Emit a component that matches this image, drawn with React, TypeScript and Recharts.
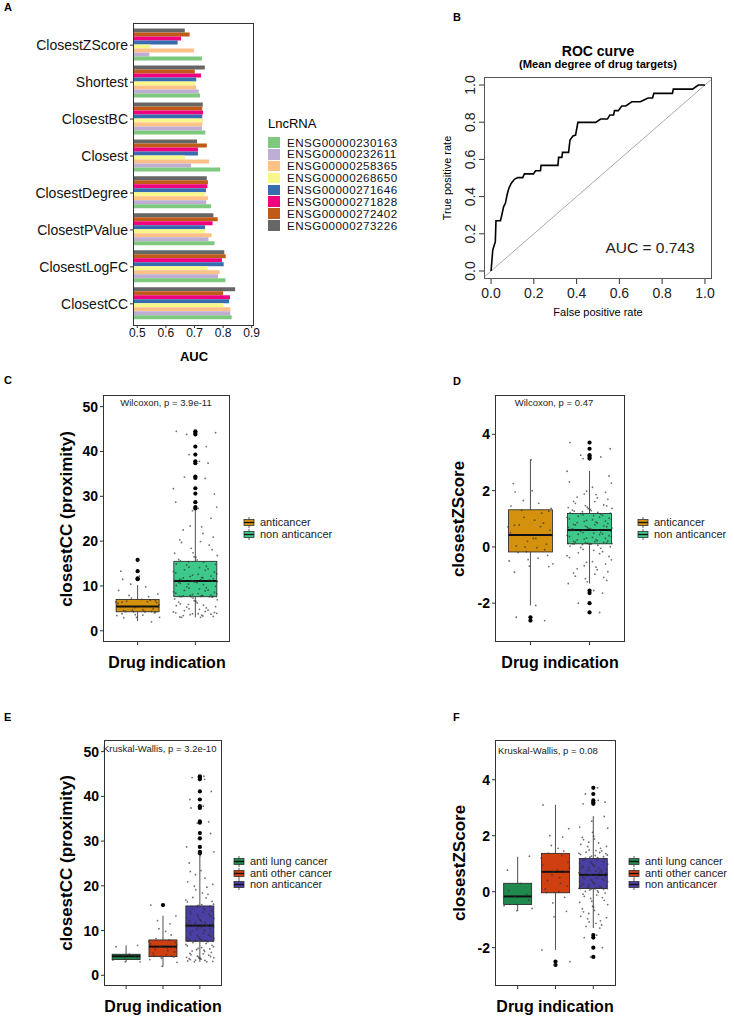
import React from "react";
import {
  BarChart,
  Bar,
  XAxis,
  YAxis,
  ComposedChart,
  Scatter,
  LineChart,
  Line,
  ReferenceLine,
} from "recharts";

const FONT = "'Liberation Sans', Arial, Helvetica, sans-serif";

// ---------- panel A: AUC per measure and lncRNA ----------
const measures = [
  "ClosestZScore",
  "Shortest",
  "ClosestBC",
  "Closest",
  "ClosestDegree",
  "ClosestPValue",
  "ClosestLogFC",
  "ClosestCC",
];
const lncIds = [
  "ENSG00000230163",
  "ENSG00000232611",
  "ENSG00000258365",
  "ENSG00000268650",
  "ENSG00000271646",
  "ENSG00000271828",
  "ENSG00000272402",
  "ENSG00000273226",
];
const lncColors = ["#7FC97F", "#BEAED4", "#FDC086", "#F7F78C", "#386CB0", "#F0027F", "#BF5B17", "#666666"];
const auc230163 = [0.726, 0.719, 0.738, 0.79, 0.758, 0.77, 0.808, 0.83];
const auc232611 = [0.542, 0.715, 0.726, 0.688, 0.741, 0.749, 0.782, 0.825];
const auc258365 = [0.698, 0.706, 0.727, 0.751, 0.747, 0.76, 0.788, 0.825];
const auc268650 = [0.544, 0.702, 0.729, 0.667, 0.737, 0.737, 0.746, 0.801];
const auc271646 = [0.641, 0.706, 0.727, 0.712, 0.74, 0.737, 0.802, 0.821];
const auc271828 = [0.653, 0.723, 0.73, 0.712, 0.745, 0.763, 0.796, 0.824];
const auc272402 = [0.683, 0.701, 0.727, 0.743, 0.747, 0.781, 0.809, 0.8];
const auc273226 = [0.666, 0.736, 0.729, 0.709, 0.743, 0.766, 0.804, 0.842];
const aucByLnc = [auc230163, auc232611, auc258365, auc268650, auc271646, auc271828, auc272402, auc273226];
const aucTicks = [0.5, 0.6, 0.7, 0.8, 0.9];

const aucRows = measures.map((m, i) => {
  const row: any = { name: m };
  lncIds.forEach((id, k) => (row[id] = aucByLnc[k][i]));
  return row;
});

// ---------- panel B: ROC ----------
const rocFpr = [
  0, 0.008, 0.02, 0.023, 0.044, 0.05, 0.059, 0.067, 0.075, 0.083, 0.094, 0.109, 0.125, 0.148, 0.156, 0.198,
  0.208, 0.231, 0.234, 0.3125, 0.316, 0.331, 0.334, 0.3625, 0.369, 0.383, 0.395, 0.406, 0.489, 0.5125, 0.544,
  0.556, 0.573, 0.577, 0.595, 0.611, 0.63, 0.658, 0.698, 0.734, 0.755, 0.761, 0.848, 0.852, 0.942, 0.969, 1.0,
];
const rocTpr = [
  0, 0.113, 0.158, 0.27, 0.27, 0.3, 0.346, 0.364, 0.41, 0.444, 0.471, 0.493, 0.502, 0.502, 0.522, 0.522,
  0.539, 0.539, 0.568, 0.568, 0.611, 0.611, 0.638, 0.638, 0.704, 0.726, 0.731, 0.799, 0.799, 0.817, 0.817,
  0.839, 0.839, 0.862, 0.862, 0.887, 0.887, 0.91, 0.91, 0.93, 0.93, 0.955, 0.955, 0.978, 0.978, 1.0, 1.0,
];
const rocTicks = [0, 0.2, 0.4, 0.6, 0.8, 1.0];
const rocRows = rocFpr.map((f, i) => ({ fpr: f, tpr: rocTpr[i] }));

// ---------- panels C-F: drug indication ----------
// box stats: [lower whisker, q1, median, q3, upper whisker]
const ccStatsAnti = [2.16, 4.24, 5.43, 7.0, 10.2];
const ccStatsNon = [3.0, 7.6, 11.1, 15.5, 26.9];
const ccStatsLung = [3.0, 3.5, 4.25, 4.7, 6.7];
const ccStatsOther = [2.0, 4.17, 6.4, 7.9, 13.3];
const zStatsAnti = [-2.08, -0.18, 0.42, 1.32, 3.1];
const zStatsNon = [-1.3, 0.11, 0.6, 1.19, 2.7];
const zStatsLung = [-0.68, -0.46, -0.17, 0.3, 1.25];
const zStatsOther = [-2.08, -0.04, 0.71, 1.37, 3.1];

const ccOutAnti = [11.5, 11.7, 13.3, 15.8];
const ccOutNon = [44.5, 44.2, 43.8, 41.1, 39.3, 37.8, 37.4, 34.4, 34.1, 31.8, 30.6, 28.7, 27.6, 27.3];
const ccOutLung: number[] = [];
const ccOutOther = [15.7];
const zOutAnti = [-2.5, -2.62];
const zOutNon = [3.71, 3.49, 3.26, 3.2, 3.14, -1.55, -1.64, -2.0, -2.33];
const zOutLung: number[] = [];
const zOutOther = [-2.5, -2.62];

// individual drugs (jittered points)
const ccLung = [6.7, 6.4, 4.7, 4.5, 4.3, 4.2, 4.0, 3.6, 3.4, 3.0, 3.0];
const ccOther = [
  15.7, 13.3, 12.2, 11.5, 10.4, 9.8, 9.0, 8.2, 7.9, 7.6, 7.3, 7.0, 6.8, 6.6, 6.5, 6.4, 6.3, 6.1, 5.8, 5.5, 5.2,
  4.9, 4.6, 4.4, 4.3, 4.2, 4.1, 3.8, 3.5, 2.9, 2.0,
];
const ccNon = [
  44.5, 44.2, 43.8, 41.1, 39.3, 37.8, 37.4, 34.3, 34.0, 31.7, 30.5, 28.7, 27.6, 27.3, 26.8, 25.1, 23.4, 23.2,
  22.5, 21.7, 20.9, 20.3, 19.9, 19.7, 19.1, 18.4, 18.1, 17.4, 17.3, 16.8, 16.5, 16.4, 15.9, 15.8, 15.6, 15.4,
  15.3, 14.9, 14.8, 14.7, 14.4, 14.2, 14.1, 13.8, 13.6, 13.5, 13.2, 13.1, 12.9, 12.7, 12.6, 12.4, 12.2, 12.1,
  11.9, 11.8, 11.8, 11.6, 11.5, 11.4, 11.3, 11.3, 11.2, 11.1, 11.1, 11.0, 11.0, 10.9, 10.9, 10.8, 10.7, 10.6,
  10.4, 10.3, 10.1, 9.9, 9.8, 9.6, 9.5, 9.3, 9.1, 9.0, 8.9, 8.7, 8.6, 8.4, 8.3, 8.3, 8.1, 8.0, 7.9, 7.9, 7.8,
  7.8, 7.7, 7.7, 7.7, 7.6, 7.6, 7.6, 7.5, 7.3, 7.1, 6.9, 6.7, 6.6, 6.4, 6.2, 6.0, 5.9, 5.7, 5.6, 5.4, 5.3,
  5.1, 4.9, 4.8, 4.6, 4.5, 4.3, 4.2, 4.1, 4.0, 3.9, 3.8, 3.8, 3.7, 3.6, 3.5, 3.4, 3.3, 3.2, 3.1, 3.0, 3.0,
];
const zLung = [1.27, 0.77, 0.3, 0.04, -0.1, -0.17, -0.3, -0.45, -0.5, -0.6, -0.68];
const zOther = [
  3.1, 2.25, 2.0, 1.95, 1.65, 1.55, 1.45, 1.37, 1.3, 1.2, 1.05, 0.95, 0.85, 0.78, 0.72, 0.71, 0.6, 0.5, 0.4,
  0.3, 0.2, 0.1, 0.0, -0.03, -0.2, -0.4, -0.7, -0.9, -2.08, -2.5, -2.62,
];
const zNon = [
  3.71, 3.49, 3.26, 3.2, 3.14, -1.55, -1.64, -2.0, -2.33, 2.69, 2.52, 2.31, 2.27, 2.12, 1.98, 1.94, 1.88, 1.86,
  1.77, 1.74, 1.69, 1.62, 1.61, 1.55, 1.49, 1.47, 1.46, 1.41, 1.4, 1.37, 1.36, 1.33, 1.31, 1.29, 1.27, 1.25,
  1.23, 1.22, 1.2, 1.18, 1.17, 1.14, 1.12, 1.12, 1.09, 1.06, 1.05, 1.02, 1.0, 0.98, 0.97, 0.94, 0.92, 0.91,
  0.88, 0.86, 0.85, 0.83, 0.8, 0.79, 0.78, 0.75, 0.74, 0.72, 0.7, 0.69, 0.67, 0.66, 0.65, 0.64, 0.62, 0.61,
  0.6, 0.6, 0.58, 0.57, 0.55, 0.52, 0.51, 0.49, 0.46, 0.45, 0.44, 0.41, 0.4, 0.37, 0.36, 0.34, 0.31, 0.3,
  0.28, 0.26, 0.25, 0.22, 0.21, 0.2, 0.19, 0.17, 0.16, 0.15, 0.14, 0.13, 0.13, 0.12, 0.12, 0.11, 0.11, 0.1,
  0.1, 0.08, 0.06, 0.03, 0.01, -0.02, -0.05, -0.09, -0.12, -0.17, -0.21, -0.24, -0.31, -0.34, -0.38, -0.46,
  -0.52, -0.55, -0.61, -0.67, -0.72, -0.78, -0.81, -0.88, -0.93, -0.97, -1.04, -1.08, -1.13, -1.19, -1.24, -1.3,
];

const twoGroups = ["anticancer", "non anticancer"];
const threeGroups = ["anti lung cancer", "anti other cancer", "non anticancer"];
const twoColors = ["#D4910E", "#3DC98A"];
const threeColors = ["#20894D", "#CF3F0F", "#4A3FA4"];
const ccTicks = [0, 10, 20, 30, 40, 50];
const zTicks = [-2, 0, 2, 4];

// fixed horizontal spread for the jittered points (fraction of a category)
const JITTER = [
  0.31, -0.12, 0.05, -0.36, 0.22, -0.27, 0.14, -0.05, 0.38, -0.19, 0.09, -0.33, 0.27, -0.02, 0.17, -0.24, 0.35,
  -0.09, 0.01, -0.38, 0.24, -0.15, 0.11, -0.29, 0.33, -0.07, 0.19, -0.21, 0.03, -0.34, 0.29, -0.11, 0.13, -0.26,
  0.37, -0.04, 0.07,
];

const Txt = ({ x, y, s, bold, anchor = "middle", rot, color = "#000", children }: any) => (
  <div
    style={{
      position: "absolute",
      left: x,
      top: y,
      fontSize: s,
      fontWeight: bold ? 700 : 400,
      color,
      whiteSpace: "nowrap",
      lineHeight: 1,
      transform:
        `translate(${anchor === "start" ? "0" : anchor === "end" ? "-100%" : "-50%"}, -50%)` +
        (rot ? ` rotate(${rot}deg)` : ""),
    }}
  >
    {children}
  </div>
);

const Frame = ({ x, y, w, h, color = "#333" }: any) => (
  <div
    style={{
      position: "absolute",
      left: x,
      top: y,
      width: w,
      height: h,
      border: `1px solid ${color}`,
      boxSizing: "border-box",
      pointerEvents: "none",
    }}
  />
);

const BoxKey = ({ color }: any) => (
  <svg width={12} height={11} style={{ display: "block" }}>
    <line x1={6} x2={6} y1={0} y2={11} stroke="#333" strokeWidth={0.8} />
    <rect x={1} y={2.5} width={10} height={6} fill={color} stroke="#333" strokeWidth={0.8} />
    <line x1={1} x2={11} y1={5.5} y2={5.5} stroke="#111" strokeWidth={1.3} />
  </svg>
);

const BoxLegend = ({ x, y, labels, colors }: any) => (
  <div style={{ position: "absolute", left: x, top: y }}>
    {labels.map((l: string, i: number) => (
      <div key={l} style={{ display: "flex", alignItems: "center", height: 11.5 }}>
        <BoxKey color={colors[i]} />
        <span style={{ marginLeft: 5, fontSize: 11, color: "#222", lineHeight: 1 }}>{l}</span>
      </div>
    ))}
  </div>
);

const BoxShape = (p: any) => {
  const { x, y, width, height, payload, boxW, boxColor } = p;
  const s = payload.stats;
  const top = Math.min(y, y + height);
  const h = Math.abs(height);
  const px = (v: number) => top + ((s[4] - v) / (s[4] - s[0])) * h;
  const cx = x + (width || 0) / 2;
  const bx = cx - boxW / 2;
  return (
    <g>
      <line x1={cx} x2={cx} y1={px(s[4])} y2={px(s[3])} stroke="#222" strokeWidth={0.8} />
      <line x1={cx} x2={cx} y1={px(s[1])} y2={px(s[0])} stroke="#222" strokeWidth={0.8} />
      <rect x={bx} y={px(s[3])} width={boxW} height={px(s[1]) - px(s[3])} fill={boxColor} stroke="#222" strokeWidth={0.8} />
      <line x1={bx} x2={bx + boxW} y1={px(s[2])} y2={px(s[2])} stroke="#111" strokeWidth={2} />
    </g>
  );
};

const tinyDot = (p: any) => <circle cx={p.cx} cy={p.cy} r={0.9} fill="#333" fillOpacity={0.7} />;
const bigDot = (p: any) => <circle cx={p.cx} cy={p.cy} r={2.1} fill="#000" />;

const BoxPanel = ({ left, top, width, height, yW, mr, xH, colors, stats, outliers, points, domain, ticks, barSize }: any) => {
  const n = stats.length;
  const rows = stats.map((st: number[], i: number) => ({ x: i + 1, range: [st[0], st[4]], stats: st }));
  const outRows = outliers.flatMap((o: number[], i: number) => o.map((v) => ({ x: i + 1, y: v })));
  const ptRows = points.flatMap((vals: number[], i: number) =>
    vals.map((v, k) => ({ x: i + 1 + JITTER[(k * 5 + i * 11) % JITTER.length], y: v }))
  );
  return (
    <div style={{ position: "absolute", left, top }}>
      <ComposedChart width={width} height={height} data={rows} margin={{ top: 15, right: mr, bottom: 0, left: 0 }}>
        <XAxis
          type="number"
          dataKey="x"
          domain={[0.4, n + 0.6]}
          ticks={Array.from({ length: n }, (_, i) => i + 1)}
          tickFormatter={() => ""}
          allowDataOverflow
          axisLine={false}
          tickSize={3}
          tickLine={{ stroke: "#333" }}
          height={xH}
        />
        <YAxis
          type="number"
          dataKey="y"
          domain={domain}
          ticks={ticks}
          allowDataOverflow
          axisLine={false}
          width={yW}
          tickSize={3}
          tickMargin={2}
          tickLine={{ stroke: "#333" }}
          tick={{ fill: "#000", fontSize: 14, fontWeight: 700, fontFamily: FONT }}
        />
        <Bar
          dataKey="range"
          barSize={barSize}
          isAnimationActive={false}
          shape={(p: any) => <BoxShape {...p} boxW={barSize} boxColor={colors[p.payload.x - 1]} />}
        />
        <Scatter data={outRows} shape={bigDot} isAnimationActive={false} />
        <Scatter data={ptRows} shape={tinyDot} isAnimationActive={false} />
      </ComposedChart>
    </div>
  );
};

const RotTick = (p: any) => (
  <text
    x={p.x}
    y={p.y}
    transform={`rotate(-90 ${p.x} ${p.y})`}
    textAnchor="middle"
    fontSize={14}
    fill="#222"
    fontFamily={FONT}
  >
    {Number(p.payload.value).toFixed(1)}
  </text>
);

export default function App() {
  return (
    <div
      style={{
        position: "absolute",
        left: 0,
        top: 0,
        width: 734,
        height: 1025,
        background: "#fff",
        fontFamily: FONT,
        overflow: "hidden",
      }}
    >
      {/* A */}
      <Txt x={4} y={7} s={11} bold anchor="start">A</Txt>
      <div style={{ position: "absolute", left: 0, top: 0 }}>
        <BarChart
          width={260}
          height={345}
          data={aucRows}
          layout="vertical"
          margin={{ top: 23, right: 6, bottom: 0, left: 0 }}
          barCategoryGap="5%"
          barGap={0}
        >
          <XAxis
            type="number"
            domain={[0.485, 0.908]}
            ticks={aucTicks}
            allowDataOverflow
            axisLine={false}
            tickSize={2}
            tickMargin={0}
            height={19}
            tickLine={{ stroke: "#333" }}
            tick={{ fill: "#111", fontSize: 12, fontFamily: FONT }}
          />
          <YAxis
            type="category"
            dataKey="name"
            width={133}
            axisLine={false}
            tickSize={3}
            tickMargin={2}
            padding={{ top: 3.7, bottom: 3.7 }}
            tickLine={{ stroke: "#333" }}
            tick={{ fill: "#111", fontSize: 14, fontFamily: FONT }}
          />
          {[7, 6, 5, 4, 3, 2, 1, 0].map((k) => (
            <Bar key={lncIds[k]} dataKey={lncIds[k]} fill={lncColors[k]} isAnimationActive={false} />
          ))}
        </BarChart>
      </div>
      <Frame x={133} y={23} w={121} h={303} />
      <Txt x={194} y={356} s={13} bold>AUC</Txt>
      <Txt x={268} y={123} s={13} anchor="start">LncRNA</Txt>
      <div style={{ position: "absolute", left: 268, top: 136.5 }}>
        {lncIds.map((id, k) => (
          <div key={id} style={{ display: "flex", alignItems: "center", height: 11.85 }}>
            <div style={{ width: 12, height: 10.5, background: lncColors[k] }} />
            <span style={{ marginLeft: 7, fontSize: 11.6, letterSpacing: 0.45, color: "#111", lineHeight: 1 }}>{id}</span>
          </div>
        ))}
      </div>

      {/* B */}
      <Txt x={453} y={17} s={11} bold anchor="start">B</Txt>
      <Txt x={598} y={51} s={14} bold>ROC curve</Txt>
      <Txt x={598} y={65} s={11.2} bold>(Mean degree of drug targets)</Txt>
      <div style={{ position: "absolute", left: 420, top: 60 }}>
        <LineChart width={300} height={260} margin={{ top: 17, right: 8, bottom: 0, left: 0 }}>
          <XAxis
            type="number"
            dataKey="fpr"
            domain={[-0.033, 1.033]}
            ticks={rocTicks}
            allowDataOverflow
            axisLine={false}
            tickSize={5}
            tickMargin={4}
            height={41}
            tickFormatter={(v: number) => v.toFixed(1)}
            tickLine={{ stroke: "#333" }}
            tick={{ fill: "#222", fontSize: 14, fontFamily: FONT }}
          />
          <YAxis
            type="number"
            dataKey="tpr"
            domain={[-0.043, 1.043]}
            ticks={rocTicks}
            allowDataOverflow
            axisLine={false}
            width={64}
            tickSize={5}
            tickMargin={4}
            tickLine={{ stroke: "#333" }}
            tick={<RotTick />}
          />
          <ReferenceLine
            segment={[
              { x: -0.033, y: -0.033 },
              { x: 1.033, y: 1.033 },
            ]}
            stroke="#aaa"
            strokeWidth={1}
          />
          <Line
            data={rocRows}
            dataKey="tpr"
            type="linear"
            stroke="#000"
            strokeWidth={1.6}
            dot={false}
            isAnimationActive={false}
          />
        </LineChart>
      </div>
      <Frame x={484} y={77} w={228} h={202} color="#555" />
      <Txt x={447} y={178} s={11} rot={-90}>True positive rate</Txt>
      <Txt x={598} y={312} s={11}>False positive rate</Txt>
      <Txt x={650} y={248} s={15.5} color="#222">AUC = 0.743</Txt>

      {/* C */}
      <Txt x={4} y={380} s={11} bold anchor="start">C</Txt>
      <BoxPanel
        left={0}
        top={380}
        width={240}
        height={280}
        yW={103}
        mr={10}
        xH={18}
        colors={twoColors}
        stats={[ccStatsAnti, ccStatsNon]}
        outliers={[ccOutAnti, ccOutNon]}
        points={[[...ccLung, ...ccOther], ccNon]}
        domain={[-2.5, 52.6]}
        ticks={ccTicks}
        barSize={43}
      />
      <Frame x={103} y={395} w={127} h={247} />
      <Txt x={166} y={403} s={9.5} color="#222">Wilcoxon, p = 3.9e-11</Txt>
      <Txt x={66} y={519} s={17} bold rot={-90}>closestCC (proximity)</Txt>
      <Txt x={167} y={663} s={16} bold>Drug indication</Txt>
      <BoxLegend x={243} y={517} labels={twoGroups} colors={twoColors} />

      {/* D */}
      <Txt x={453} y={381} s={11} bold anchor="start">D</Txt>
      <BoxPanel
        left={380}
        top={380}
        width={255}
        height={280}
        yW={115}
        mr={10}
        xH={18}
        colors={twoColors}
        stats={[zStatsAnti, zStatsNon]}
        outliers={[zOutAnti, zOutNon]}
        points={[[...zLung, ...zOther], zNon]}
        domain={[-3.38, 5.4]}
        ticks={zTicks}
        barSize={44}
      />
      <Frame x={495} y={395} w={130} h={247} />
      <Txt x={554} y={403} s={9.5} color="#222">Wilcoxon, p = 0.47</Txt>
      <Txt x={458} y={519} s={17} bold rot={-90}>closestZScore</Txt>
      <Txt x={560} y={663} s={16} bold>Drug indication</Txt>
      <BoxLegend x={637} y={517} labels={twoGroups} colors={twoColors} />

      {/* E */}
      <Txt x={4} y={717} s={11} bold anchor="start">E</Txt>
      <BoxPanel
        left={0}
        top={725}
        width={232}
        height={280}
        yW={104}
        mr={10}
        xH={19}
        colors={threeColors}
        stats={[ccStatsLung, ccStatsOther, ccStatsNon]}
        outliers={[ccOutLung, ccOutOther, ccOutNon]}
        points={[ccLung, ccOther, ccNon]}
        domain={[-2.4, 52.6]}
        ticks={ccTicks}
        barSize={28}
      />
      <Frame x={104} y={740} w={118} h={246} />
      <Txt x={103} y={749} s={9.5} anchor="start" color="#222">Kruskal-Wallis, p = 3.2e-10</Txt>
      <Txt x={66} y={863} s={17} bold rot={-90}>closestCC (proximity)</Txt>
      <Txt x={163} y={1007} s={16} bold>Drug indication</Txt>
      <BoxLegend x={233} y={856} labels={threeGroups} colors={threeColors} />

      {/* F */}
      <Txt x={453} y={717} s={11} bold anchor="start">F</Txt>
      <BoxPanel
        left={380}
        top={725}
        width={246}
        height={280}
        yW={115}
        mr={10}
        xH={19}
        colors={threeColors}
        stats={[zStatsLung, zStatsOther, zStatsNon]}
        outliers={[zOutLung, zOutOther, zOutNon]}
        points={[zLung, zOther, zNon]}
        domain={[-3.37, 5.42]}
        ticks={zTicks}
        barSize={28}
      />
      <Frame x={495} y={740} w={121} h={246} />
      <Txt x={498} y={751} s={9.5} anchor="start" color="#222">Kruskal-Wallis, p = 0.08</Txt>
      <Txt x={459} y={863} s={17} bold rot={-90}>closestZScore</Txt>
      <Txt x={555} y={1007} s={16} bold>Drug indication</Txt>
      <BoxLegend x={628} y={856} labels={threeGroups} colors={threeColors} />
    </div>
  );
}
